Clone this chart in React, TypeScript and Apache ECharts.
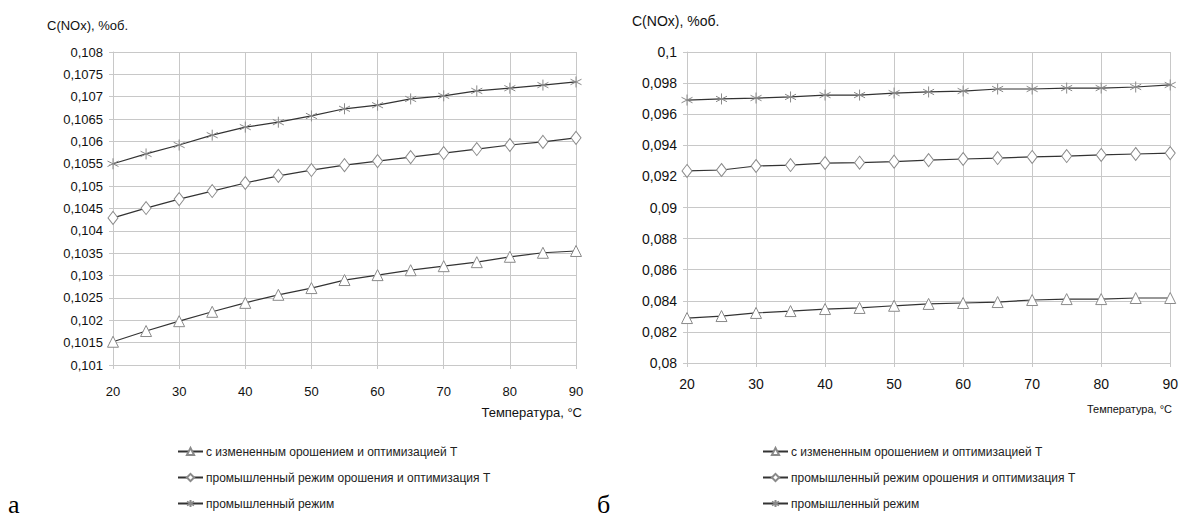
import React, { useEffect, useRef } from "react";
import * as echarts from "echarts";

const temps = [20, 25, 30, 35, 40, 45, 50, 55, 60, 65, 70, 75, 80, 85, 90];

const seriesNames = [
  "с измененным орошением и оптимизацией Т",
  "промышленный режим орошения и оптимизация Т",
  "промышленный режим",
];

// chart a
const aTriangle = [0.10152, 0.10176, 0.10198, 0.10219, 0.10239, 0.10257, 0.10272, 0.1029, 0.10301, 0.10312, 0.10321, 0.1033, 0.10342, 0.10351, 0.10355];
const aDiamond = [0.10429, 0.10451, 0.10471, 0.10489, 0.10507, 0.10523, 0.10536, 0.10547, 0.10556, 0.10565, 0.10574, 0.10583, 0.10592, 0.10599, 0.10608];
const aStar = [0.1055, 0.10572, 0.10592, 0.10614, 0.10632, 0.10643, 0.10657, 0.10673, 0.10681, 0.10695, 0.10702, 0.10713, 0.10719, 0.10726, 0.10733];

// chart б
const bTriangle = [0.08289, 0.08302, 0.08322, 0.08334, 0.08347, 0.08354, 0.08368, 0.0838, 0.08386, 0.08392, 0.08405, 0.08411, 0.08411, 0.08418, 0.08418];
const bDiamond = [0.09235, 0.09241, 0.09267, 0.09273, 0.09286, 0.09288, 0.09295, 0.09305, 0.09312, 0.09318, 0.09325, 0.09331, 0.09338, 0.09344, 0.0935];
const bStar = [0.09691, 0.09698, 0.09704, 0.09711, 0.09723, 0.09723, 0.09736, 0.09743, 0.09749, 0.09762, 0.09762, 0.09768, 0.09768, 0.09775, 0.09788];

const yAxisTitle = "C(NOx), %об.";
const xAxisTitle = "Температура, °C";
const panelLabels = ["а", "б"];

const FONT = '"Liberation Sans Narrow", "Arial Narrow", "Liberation Sans", Arial, sans-serif';
const STAR = "path://M5,0L5,10M0.7,2.5L9.3,7.5M0.7,7.5L9.3,2.5";

function fmt(v: number, digits: number) {
  const s = v.toFixed(digits).replace(/0+$/, "").replace(/\.$/, "");
  return s.replace(".", ",");
}

function mk(values: number[], name: string, idx: number, kind: string) {
  const symbol = kind === "tri" ? "triangle" : kind === "dia" ? "diamond" : STAR;
  const size = kind === "tri" ? [11, 11] : kind === "dia" ? [10, 13] : [11, 11];
  return {
    type: "line",
    name,
    xAxisIndex: idx,
    yAxisIndex: idx,
    data: temps.map((t, i) => [t, values[i]]),
    symbol,
    symbolSize: size,
    showAllSymbol: true,
    lineStyle: { color: "#333", width: 1.2 },
    itemStyle: { color: "#fff", borderColor: "#8a8a8a", borderWidth: 1 },
    emphasis: { disabled: true },
    z: kind === "star" ? 3 : 2,
  };
}

export default function App() {
  const ref = useRef<HTMLDivElement>(null);
  useEffect(() => {
    const chart = echarts.init(ref.current!, null, { renderer: "svg" });
    const gridLine = { show: true, lineStyle: { color: "#c8c8c8", width: 1 } };
    const xAxisCommon = (idx: number, fs: number, margin: number) => ({
      type: "value",
      gridIndex: idx,
      min: 20,
      max: 90,
      interval: 10,
      axisLine: { show: true, lineStyle: { color: "#c8c8c8" } },
      axisTick: { show: true, length: 4, lineStyle: { color: "#c8c8c8" } },
      splitLine: gridLine,
      axisLabel: { color: "#111", fontSize: fs, fontFamily: FONT, margin },
    });
    const legendCommon = (left: number, top: number, fs: number) => ({
      orient: "vertical",
      left,
      top,
      itemWidth: 25,
      itemHeight: 9,
      itemGap: 11,
      data: seriesNames,
      selectedMode: false,
      textStyle: { color: "#222", fontSize: fs, fontFamily: FONT, lineHeight: 15, padding: [0, 0, 0, -2] },
    });
    chart.setOption({
      animation: false,
      backgroundColor: "#fff",
      grid: [
        { left: 113, top: 52, width: 463, height: 313 },
        { left: 687, top: 52, width: 484, height: 311 },
      ],
      xAxis: [xAxisCommon(0, 13, 20), xAxisCommon(1, 14, 14)],
      yAxis: [
        {
          type: "value",
          gridIndex: 0,
          min: 0.101,
          max: 0.108,
          interval: 0.0005,
          axisLine: { show: true, lineStyle: { color: "#c8c8c8" } },
          axisTick: { show: true, length: 4, lineStyle: { color: "#c8c8c8" } },
          splitLine: gridLine,
          axisLabel: { color: "#111", fontSize: 13, fontFamily: FONT, margin: 10, formatter: (v: number) => fmt(v, 5) },
        },
        {
          type: "value",
          gridIndex: 1,
          min: 0.08,
          max: 0.1,
          interval: 0.002,
          axisLine: { show: true, lineStyle: { color: "#c8c8c8" } },
          axisTick: { show: true, length: 4, lineStyle: { color: "#c8c8c8" } },
          splitLine: gridLine,
          axisLabel: { color: "#111", fontSize: 14, fontFamily: FONT, margin: 10, formatter: (v: number) => fmt(v, 4) },
        },
      ],
      legend: [legendCommon(172, 439, 12), legendCommon(757, 439, 12)],
      series: [
        mk(aTriangle, seriesNames[0], 0, "tri"),
        mk(aDiamond, seriesNames[1], 0, "dia"),
        mk(aStar, seriesNames[2], 0, "star"),
        mk(bTriangle, seriesNames[0], 1, "tri"),
        mk(bDiamond, seriesNames[1], 1, "dia"),
        mk(bStar, seriesNames[2], 1, "star"),
      ],
      graphic: [
        { type: "text", left: 47, top: 19, style: { text: yAxisTitle, fontSize: 13, fontFamily: FONT, fill: "#111" } },
        { type: "text", left: 632, top: 14, style: { text: yAxisTitle, fontSize: 14, fontFamily: FONT, fill: "#111" } },
        { type: "text", right: 1181 - 582, top: 406, style: { text: xAxisTitle, fontSize: 13, fontFamily: FONT, fill: "#111" } },
        { type: "text", right: 1181 - 1172, top: 403, style: { text: xAxisTitle, fontSize: 11, fontFamily: FONT, fill: "#111" } },
        { type: "text", left: 8, top: 491, style: { text: panelLabels[0], fontSize: 26, fontFamily: '"Liberation Serif", "DejaVu Serif", serif', fill: "#000" } },
        { type: "text", left: 597, top: 491, style: { text: panelLabels[1], fontSize: 26, fontFamily: '"Liberation Serif", "DejaVu Serif", serif', fill: "#000" } },
      ],
    });
    return () => chart.dispose();
  }, []);
  return <div ref={ref} style={{ position: "fixed", left: 0, top: 0, width: 1181, height: 520, background: "#fff" }} />;
}
